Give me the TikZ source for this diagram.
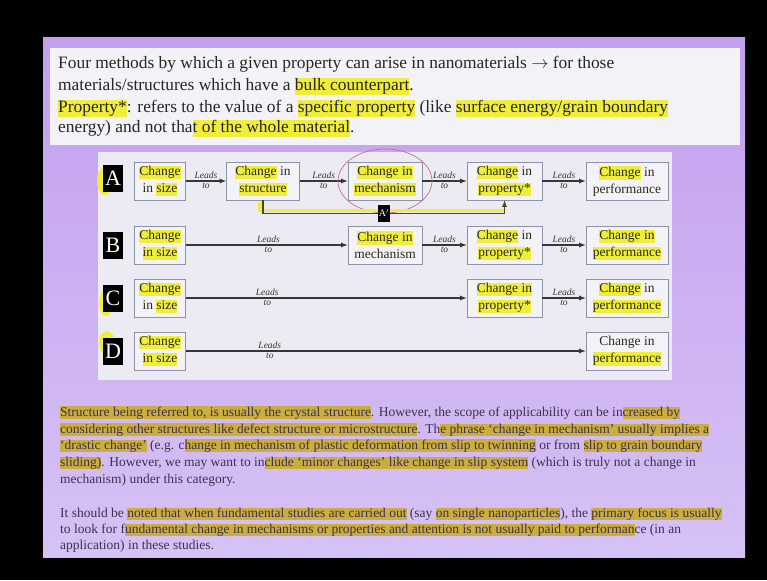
\documentclass[tikz,border=0pt]{standalone}
\usepackage{fontspec}
\setmainfont{Liberation Serif}
\usetikzlibrary{arrows, calc}

\definecolor{slidepurple}{HTML}{C39FEE}
\definecolor{slidelight}{HTML}{D6C2F5}
\definecolor{boxwhite}{HTML}{F3F2F6}
\definecolor{diagbg}{HTML}{ECEBF3}
\definecolor{boxgray}{HTML}{8C93A6}
\definecolor{boxtext}{HTML}{2A2A1E}
\definecolor{arrowgray}{HTML}{363636}
\definecolor{hlyel}{HTML}{F0EE3A}
\definecolor{hlgold}{HTML}{CBAE3E}
\definecolor{paratext}{HTML}{3A3250}
\definecolor{circpink}{HTML}{C0708E}
\definecolor{bracketol}{HTML}{4E4422}

\newcommand{\hly}[1]{{\setlength{\fboxsep}{0pt}\colorbox{hlyel}{\rule[-0.25em]{0pt}{1.0em}#1}}}
\newcommand{\hlg}[1]{{\setlength{\fboxsep}{0pt}\colorbox{hlgold}{\rule[-0.25em]{0pt}{0.95em}#1}}}

\tikzset{
  chbox/.style={draw=boxgray, fill=boxwhite, line width=0.8pt, align=center, text=boxtext,
    inner sep=1pt, minimum height=38pt, font=\fontsize{13.5}{17}\selectfont},
  letterbox/.style={fill=black, text=white, minimum width=20pt, minimum height=27pt,
    inner sep=0pt, font=\fontsize{22}{22}\selectfont},
  leads/.style={font=\fontsize{9.5}{10}\selectfont\itshape, text=arrowgray, inner sep=1.5pt},
  flow/.style={draw=arrowgray, line width=1.2pt, -latex},
  toptext/.style={anchor=base west, inner sep=0pt, text=black!85, font=\fontsize{17.4}{20}\selectfont},
  para/.style={anchor=base west, inner sep=0pt, text=paratext, font=\fontsize{13.5}{15}\selectfont},
}

\begin{document}
\begin{tikzpicture}[x=1pt, y=-1pt]

% slide
\fill[black] (0,0) rectangle (767,580);
\useasboundingbox (0,0) rectangle (767,580);
\shade[top color=slidepurple, bottom color=slidelight] (43,38) rectangle (745,557);
\fill[boxwhite] (50,48) rectangle (740,145);
\fill[diagbg] (98,152) rectangle (672,380);

% top text
\node[toptext] (t1) at (58,69) {Four methods by which a given property can arise in nanomaterials $\rightarrow$ for those};
\node[toptext] (t2) at (58,91) {materials/structures which have a \hly{bulk counterpart}.};
\node[toptext] (t3) at (58,113) {\hly{Property*}: refers to the value of a \hly{specific property} (like \hly{surface energy/grain boundary}};
\node[toptext] (t4) at (58,133) {energy) and not tha\hly{t of the whole material}.};

% yellow marks on the letters
\fill[hlyel] (105,181) ellipse [x radius=8, y radius=14];
\fill[hlyel] (106,303) ellipse [x radius=7, y radius=13];
\fill[hlyel] (107,343) ellipse [x radius=8, y radius=12];

% row A
\node[letterbox] (la) at (113,178) {A};
\node[chbox, minimum width=51pt] (a1) at (160,181) {\hly{Change}\\in \hly{size}};
\node[chbox, minimum width=73pt] (a2) at (263,181) {\hly{Change} in\\\hly{structure}};
\node[chbox, minimum width=74pt] (a3) at (385,181) {\hly{Change in}\\\hly{mechanism}};
\node[chbox, minimum width=75pt] (a4) at (504.5,181) {\hly{Change} in\\\hly{property*}};
\node[chbox, minimum width=82pt] (a5) at (627,181) {\hly{Change} in\\performance};

\draw[flow] (a1) -- (a2) node[leads, above, midway]{Leads} node[leads, below, midway]{to};
\draw[flow] (a2) -- (a3) node[leads, above, midway]{Leads} node[leads, below, midway]{to};
\draw[flow] (a3) -- (a4) node[leads, above, midway]{Leads} node[leads, below, midway]{to};
\draw[flow] (a4) -- (a5) node[leads, above, midway]{Leads} node[leads, below, midway]{to};

\draw[circpink, line width=0.7pt] (a3) ellipse [x radius=47, y radius=32];

% A' path
\draw[hlyel, line width=3.5pt] ($(a2.south)+(-3,2)$) |- ($(a4.south)+(0,10)$);
\draw[bracketol, line width=1.2pt, -latex] (a2.south) -- ++(0,13) -| (a4.south);
\node[fill=black, text=white, minimum width=12pt, minimum height=17pt, inner sep=0pt,
  font=\fontsize{10}{10}\selectfont] (ap) at (384,213) {A$'$};

% row B
\node[letterbox] (lb) at (113,245) {B};
\node[chbox, minimum width=51pt] (b1) at (160,245) {\hly{Change}\\\hly{in size}};
\node[chbox, minimum width=74pt] (b3) at (385,245) {\hly{Change in}\\mechanism};
\node[chbox, minimum width=75pt] (b4) at (504.5,245) {\hly{Change} in\\\hly{property*}};
\node[chbox, minimum width=82pt] (b5) at (627,245) {\hly{Change in}\\\hly{performance}};

\draw[flow] (b1) -- (b3) node[leads, above, pos=.51]{Leads} node[leads, below, pos=.51]{to};
\draw[flow] (b3) -- (b4) node[leads, above, midway]{Leads} node[leads, below, midway]{to};
\draw[flow] (b4) -- (b5) node[leads, above, midway]{Leads} node[leads, below, midway]{to};

% row C
\node[letterbox] (lc) at (113,298) {C};
\node[chbox, minimum width=51pt] (c1) at (160,298) {\hly{Change}\\in \hly{size}};
\node[chbox, minimum width=75pt] (c4) at (504.5,298) {\hly{Change in}\\\hly{property*}};
\node[chbox, minimum width=82pt] (c5) at (627,298) {\hly{Change} in\\\hly{performance}};

\draw[flow] (c1) -- (c4) node[leads, above, pos=.29]{Leads} node[leads, below, pos=.29]{to};
\draw[flow] (c4) -- (c5) node[leads, above, midway]{Leads} node[leads, below, midway]{to};

% row D
\node[letterbox] (ld) at (113,351) {D};
\node[chbox, minimum width=51pt] (d1) at (160,351) {\hly{Change}\\\hly{in size}};
\node[chbox, minimum width=82pt] (d5) at (627,351) {Change in\\\hly{performance}};

\draw[flow] (d1) -- (d5) node[leads, above, pos=.21]{Leads} node[leads, below, pos=.21]{to};

% notes
\node[para] (p1) at (60,416) {\hlg{Structure being referred to, is usually the crystal structure}. However, the scope of applicability can be in\hlg{creased by}};
\node[para] (p2) at (60,433) {\hlg{considering other structures like defect structure or microstructure}. Th\hlg{e phrase `change in mechanism' usually implies a}};
\node[para] (p3) at (60,449) {\hlg{`drastic change'} (e.g. c\hlg{hange in mechanism of plastic deformation from slip to twinning} or from \hlg{slip to grain boundary}};
\node[para] (p4) at (60,466) {\hlg{sliding)}. However, we may want to in\hlg{clude `minor changes' like change in slip system} (which is truly not a change in};
\node[para] (p5) at (60,483) {mechanism) under this category.};

\node[para] (q1) at (60,517) {It should be \hlg{noted that when fundamental studies are carried out} (say \hlg{on single nanoparticles}), the \hlg{primary focus is usually}};
\node[para] (q2) at (60,533) {to look for f\hlg{undamental change in mechanisms or properties and attention is not usually paid to performan}ce (in an};
\node[para] (q3) at (60,549) {application) in these studies.};

\end{tikzpicture}
\end{document}
